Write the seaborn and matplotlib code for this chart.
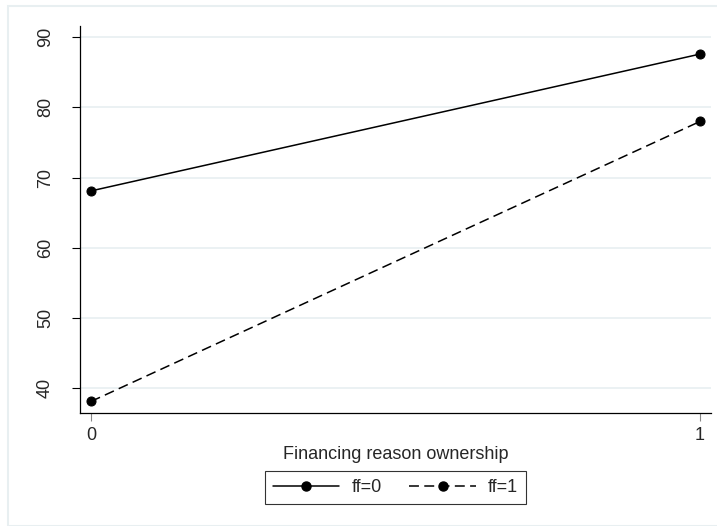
import matplotlib
matplotlib.use("Agg")
import matplotlib.pyplot as plt
import seaborn as sns
import pandas as pd
from matplotlib.patches import Rectangle
from matplotlib.lines import Line2D

# values
ownership = [0, 1]
ff0 = [68.1, 87.6]
ff1 = [38.1, 78.0]
y_ticks = [40, 50, 60, 70, 80, 90]

df = pd.DataFrame({
    "ownership": ownership * 2,
    "value": ff0 + ff1,
    "group": ["ff=0"] * 2 + ["ff=1"] * 2,
})

sns.set_style("white")
plt.rcParams["font.family"] = ["Liberation Sans", "DejaVu Sans"]

fig = plt.figure(figsize=(7.17, 5.26), dpi=100)
fig.patches.append(Rectangle((8 / 717, 0), 1, 1 - 6 / 526, transform=fig.transFigure,
                             fill=False, edgecolor="#e8eff1", linewidth=1.5))
ax = fig.add_axes([80 / 717, 113.3 / 526, 631 / 717, 386.7 / 526])

dash = (6.5, 3.5)
sns.lineplot(data=df, x="ownership", y="value", hue="group", style="group",
             palette={"ff=0": "black", "ff=1": "black"},
             dashes={"ff=0": "", "ff=1": dash},
             markers={"ff=0": "o", "ff=1": "o"}, markersize=6.5,
             markeredgecolor="black", linewidth=1.1, ax=ax, legend=False)

ax.set_xlim(-0.018, 1.018)
ax.set_ylim(36.5, 91.6)
ax.set_xticks(ownership)
ax.set_yticks(y_ticks)
for t in y_ticks:
    ax.axhline(t, color="#e8eff1", linewidth=1.2, zorder=0)

for s in ["top", "right"]:
    ax.spines[s].set_visible(False)
for s in ["left", "bottom"]:
    ax.spines[s].set_color("black")
    ax.spines[s].set_linewidth(0.9)

ax.tick_params(axis="y", direction="out", length=5.8, width=0.8, color="black",
               labelsize=13, labelrotation=90, left=True, pad=13)
ax.tick_params(axis="x", direction="out", length=5.5, width=0.8, color="#888888",
               labelsize=13, bottom=True, pad=5)
for lab in ax.get_yticklabels():
    lab.set_va("center")

ax.set_xlabel("Financing reason ownership", fontsize=13, labelpad=1.5)
ax.set_ylabel("")

handles = [
    Line2D([], [], color="black", linewidth=1.1, marker="o", markersize=6.5, linestyle="-"),
    Line2D([], [], color="black", linewidth=1.1, marker="o", markersize=6.5,
           linestyle=(0, dash)),
]
leg = ax.legend(handles, ["ff=0", "ff=1"], ncol=2, loc="upper center",
                bbox_to_anchor=(0.5, -0.151), frameon=True, fancybox=False,
                fontsize=13, handlelength=3.7, numpoints=1, columnspacing=1.5,
                borderpad=0.45, handletextpad=0.68, borderaxespad=0)
leg.get_frame().set_edgecolor("black")
leg.get_frame().set_linewidth(0.8)

fig.savefig("out.png", dpi=100)
